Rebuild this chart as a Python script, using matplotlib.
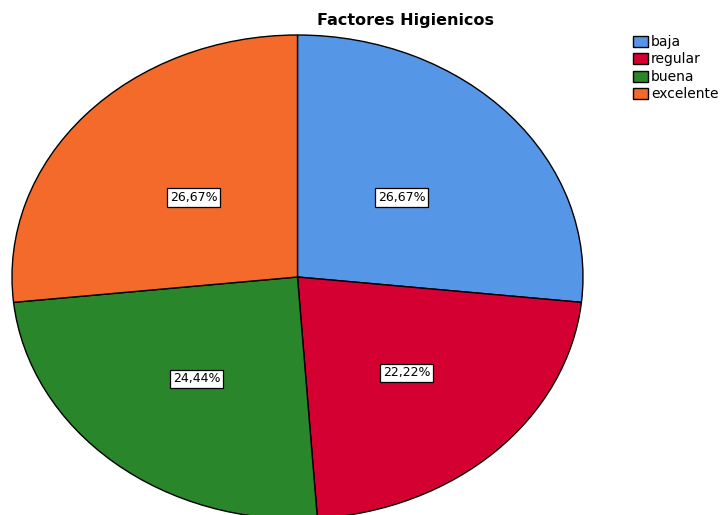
import matplotlib
matplotlib.use("Agg")
import matplotlib.pyplot as plt
import numpy as np

categories = ["baja", "regular", "buena", "excelente"]
percentages = [26.67, 22.22, 24.44, 26.67]
colors = ["#5596E6", "#D50032", "#2A862A", "#F36A2B"]
title = "Factores Higienicos"

W, H = 723, 515
fig = plt.figure(figsize=(W / 100, H / 100), dpi=100)
# ellipse: x 12..583, y 35..519 (pixels, top origin)
left, right, top, bottom = 12, 583, 35, 519
ax = fig.add_axes([left / W, (H - bottom) / H, (right - left) / W, (bottom - top) / H])

wedges, texts, autotexts = ax.pie(
    percentages, colors=colors, startangle=90, counterclock=False,
    autopct=lambda p: f"{p:.2f}%".replace(".", ","), pctdistance=0.5,
    wedgeprops=dict(edgecolor="black", linewidth=1.0), radius=1.0,
)
ax.set_aspect("auto")
ax.set_xlim(-1, 1)
ax.set_ylim(-1, 1)
ax.axis("off")
for w in wedges:
    w.set_clip_on(False)
for w, t in zip(wedges, autotexts):
    mid = np.deg2rad((w.theta1 + w.theta2) / 2)
    r = 0.49 if np.sin(mid) > 0 else 0.55
    t.set_position((r * np.cos(mid), r * np.sin(mid)))
    t.set_fontsize(9)
    t.set_fontfamily("DejaVu Sans")
    t.set_bbox(dict(facecolor="white", edgecolor="black", boxstyle="square,pad=0.22", linewidth=0.9))

fig.text(405.5 / W, 1 - 21 / H, title, ha="center", va="center",
         fontsize=11.5, fontweight="bold", family="DejaVu Sans")

leg = fig.legend(wedges, categories, loc="upper left",
                 bbox_to_anchor=(633 / W, 1 - 35 / H), frameon=False,
                 handlelength=1.05, handleheight=0.85, handletextpad=0.25,
                 labelspacing=0.25, borderaxespad=0, borderpad=0,
                 prop=dict(family="DejaVu Sans", size=10))

fig.savefig("out.png", dpi=100)
